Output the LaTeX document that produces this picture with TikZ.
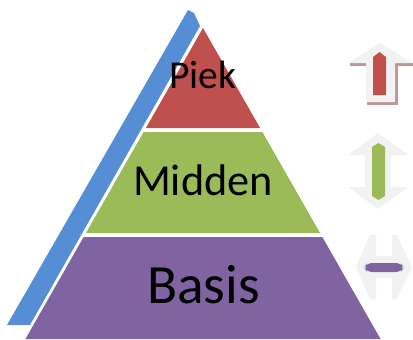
\documentclass[tikz,border=0pt]{standalone}
\usepackage{fontspec}
\setmainfont{Carlito}
\usetikzlibrary{calc}
\definecolor{PiekRed}{RGB}{192,80,77}
\definecolor{MiddenGreen}{RGB}{155,187,89}
\definecolor{BasisPurple}{RGB}{128,100,162}
\definecolor{EdgeBlue}{RGB}{85,142,213}
\definecolor{ArrowGray}{RGB}{242,242,242}
\definecolor{ShadowRose}{RGB}{190,150,150}

\begin{document}
\begin{tikzpicture}[x=0.02cm, y=-0.02cm]
		\pgfmathsetmacro{\k}{0.571}
		\useasboundingbox (0,0) rectangle (413,339);
		
		% 左侧蓝色斜条
		\fill[EdgeBlue] (188,10) -- (194,13) -- (200,26) -- (30,325) -- (7,325) -- cycle;
		
		% 金字塔三层, 顶点 T
		\coordinate (T) at (203,28);
		\fill[PiekRed] (T) -- ({203+\k*100},128) -- ({203-\k*100},128) -- cycle;
		\fill[MiddenGreen] ({203-\k*104},132) -- ({203+\k*104},132)
			-- ({203+\k*205},233) -- ({203-\k*205},233) -- cycle;
		\fill[BasisPurple] ({203-\k*209},237) -- ({203+\k*209},237)
			-- ({203+\k*311},339) -- ({203-\k*311},339) -- cycle;
		
		% 文字
		\node[anchor=base, inner sep=0, font=\fontsize{22.5}{27}\selectfont] (piek) at (203,88) {Piek};
		\node[anchor=base, inner sep=0, font=\fontsize{25.2}{30}\selectfont] (midden) at (203,195) {Midden};
		\node[anchor=base, inner sep=0, font=\fontsize{31.5}{38}\selectfont] (basis) at (203.5,303) {Basis};
		
		% 向上箭头 (带阴影)
		\draw[ShadowRose, line width=1.3pt] (350,64.5) -- (367,64.5);
		\draw[ShadowRose, line width=1.3pt] (413,64.5) -- (396.5,64.5) -- (396.5,103.5) -- (368,103.5) -- (368,101);
		\fill[ArrowGray] (380,43) -- (413,63) -- (395,63) -- (395,102) -- (366,102) -- (366,63) -- (348,63) -- cycle;
		\fill[PiekRed] (373,95) -- (373,57) -- (379.5,52) -- (386,57) -- (386,95) -- cycle;
		
		% 上下双向箭头
		\fill[ArrowGray] (378,133) -- (408,155) -- (391,155) -- (391,187) -- (408,187) -- (378,209)
			-- (348,187) -- (365,187) -- (365,155) -- (348,155) -- cycle;
		\fill[MiddenGreen] (372,147) -- (378.5,143) -- (385,147) -- (385,196) -- (378.5,200) -- (372,196) -- cycle;
		
		% 左右双向箭头
		\fill[ArrowGray] (356,267) -- (370,235) -- (376,235) -- (376,256) -- (392,256) -- (392,235)
			-- (397,235) -- (412,267) -- (397,299) -- (392,299) -- (392,278) -- (376,278)
			-- (376,299) -- (370,299) -- cycle;
		\fill[BasisPurple, rounded corners=3pt] (364,267.5) -- (367,263) -- (401,263) -- (404,267.5)
			-- (401,272) -- (367,272) -- cycle;
	\end{tikzpicture}
\end{document}
